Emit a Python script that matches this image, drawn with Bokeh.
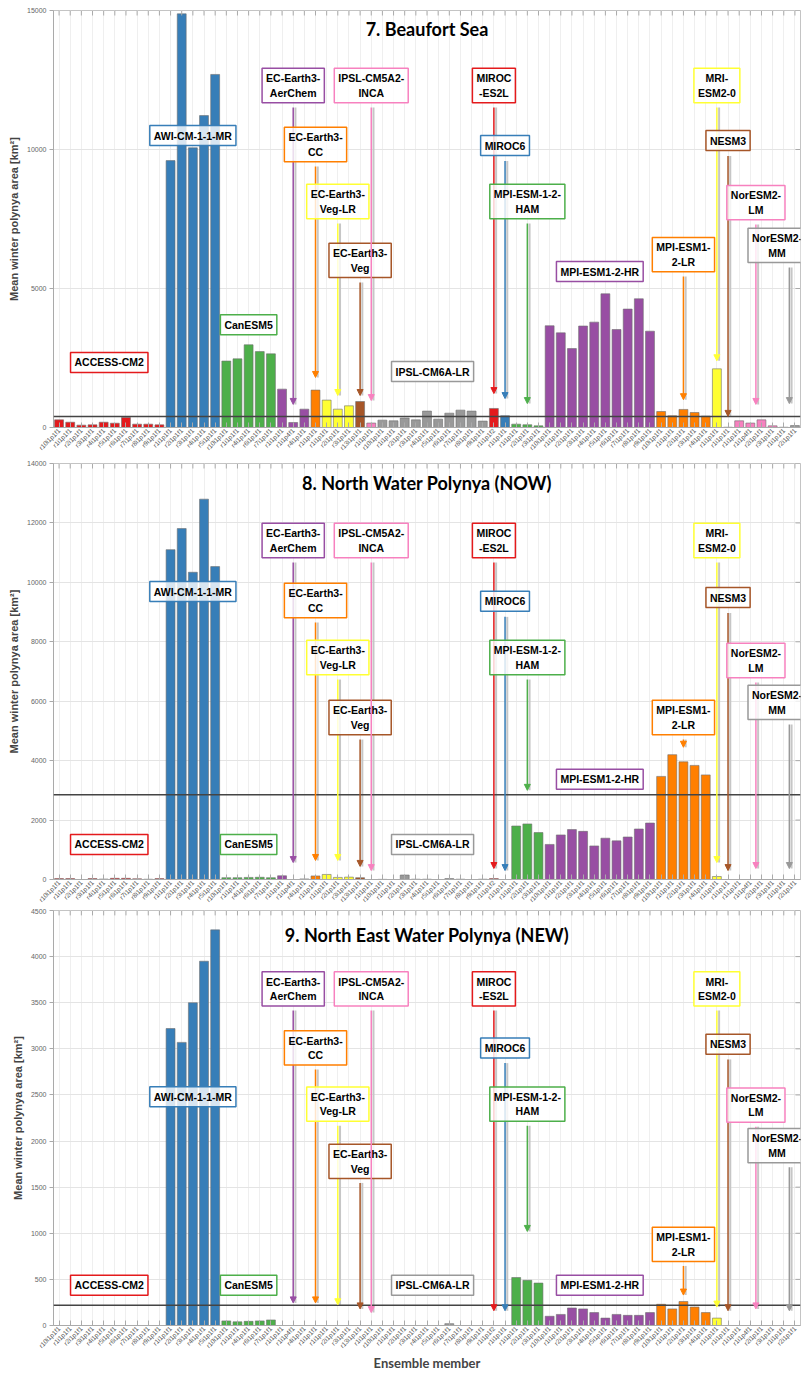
import numpy as np
from bokeh.plotting import figure
from bokeh.layouts import column
from bokeh.models import (Span, Label, Arrow, NormalHead, FixedTicker, Range1d, ColumnDataSource)
from bokeh.embed import file_html
from bokeh.resources import INLINE

# ---------------- data ----------------
models = ["ACCESS-CM2", "AWI-CM-1-1-MR", "CanESM5", "EC-Earth3-AerChem", "EC-Earth3-CC",
          "EC-Earth3-Veg-LR", "EC-Earth3-Veg", "IPSL-CM5A2-INCA", "IPSL-CM6A-LR", "MIROC-ES2L",
          "MIROC6", "MPI-ESM-1-2-HAM", "MPI-ESM1-2-HR", "MPI-ESM1-2-LR", "MRI-ESM2-0", "NESM3",
          "NorESM2-LM", "NorESM2-MM"]
box_texts = ["ACCESS-CM2", "AWI-CM-1-1-MR", "CanESM5", "EC-Earth3-\nAerChem", "EC-Earth3-\nCC",
             "EC-Earth3-\nVeg-LR", "EC-Earth3-\nVeg", "IPSL-CM5A2-\nINCA", "IPSL-CM6A-LR", "MIROC\n-ES2L",
             "MIROC6", "MPI-ESM-1-2-\nHAM", "MPI-ESM1-2-HR", "MPI-ESM1-\n2-LR", "MRI-\nESM2-0", "NESM3",
             "NorESM2-\nLM", "NorESM2-\nMM"]
colors = ["#e41a1c", "#377eb8", "#4daf4a", "#984ea3", "#ff7f00", "#ffff33", "#a65628", "#f781bf", "#999999",
          "#e41a1c", "#377eb8", "#4daf4a", "#984ea3", "#ff7f00", "#ffff33", "#a65628", "#f781bf", "#999999"]
r10 = ["r10i1p1f1"] + ["r%di1p1f1" % k for k in range(1, 10)]
members_by_model = [
    r10,
    ["r%di1p1f1" % k for k in range(1, 6)],
    ["r10i1p1f1", "r1i1p1f1", "r4i1p1f1", "r6i1p1f1", "r7i1p1f1"],
    ["r1i1p1f1", "r1i1p4f1", "r4i1p1f1"],
    ["r1i1p1f1"],
    ["r1i1p1f1", "r2i1p1f1", "r3i1p1f1"],
    ["r13i1p1f1"],
    ["r1i1p1f1"],
    r10,
    ["r1i1p1f2"],
    ["r1i1p1f1"],
    ["r1i1p1f1", "r2i1p1f1", "r3i1p1f1"],
    r10,
    ["r10i1p1f1", "r1i1p1f1", "r2i1p1f1", "r3i1p1f1", "r4i1p1f1"],
    ["r1i1p1f1"],
    ["r1i1p1f1"],
    ["r1i1p1f1", "r1i1p4f1", "r2i1p1f1", "r3i1p1f1"],
    ["r1i1p1f1", "r2i1p1f1"],
]

# 7. Beaufort Sea
beaufort = [
    [275, 190, 85, 95, 190, 155, 360, 120, 120, 95],
    [9600, 14880, 10060, 11220, 12700],
    [2390, 2470, 2975, 2730, 2650],
    [1380, 180, 660],
    [1345],
    [985, 660, 780],
    [935],
    [160],
    [265, 240, 340, 275, 590, 300, 515, 625, 590, 230],
    [685],
    [420],
    [120, 100, 60],
    [3660, 3405, 2840, 3650, 3790, 4810, 3525, 4260, 4630, 3465],
    [575, 420, 650, 540, 410],
    [2110],
    [10],
    [240, 160, 275, 60],
    [10, 70],
]
# 8. North Water Polynya (NOW)
now = [
    [30, 30, 0, 30, 15, 40, 40, 25, 10, 30],
    [11100, 11810, 10340, 12800, 10530],
    [60, 60, 70, 75, 60],
    [125, 0, 20],
    [120],
    [170, 70, 80],
    [60],
    [0],
    [5, 0, 150, 10, 10, 0, 30, 10, 0, 10],
    [30],
    [0],
    [1800, 1870, 1580],
    [1180, 1500, 1680, 1620, 1130, 1390, 1300, 1430, 1700, 1900],
    [3470, 4200, 3960, 3840, 3520],
    [100],
    [0],
    [0, 0, 0, 0],
    [0, 0],
]
# 9. North East Water Polynya (NEW)
new = [
    [0, 0, 0, 0, 0, 0, 0, 0, 0, 0],
    [3220, 3070, 3500, 3950, 4290],
    [50, 40, 45, 50, 60],
    [0, 0, 0],
    [0],
    [0, 0, 0],
    [0],
    [0],
    [0, 0, 0, 0, 0, 0, 20, 0, 0, 0],
    [0],
    [0],
    [520, 490, 460],
    [100, 120, 190, 180, 140, 80, 120, 110, 110, 140],
    [230, 180, 260, 200, 140],
    [80],
    [0],
    [0, 0, 0, 0],
    [0, 0],
]
obs_values = [400, 2850, 220]
titles = ["7. Beaufort Sea", "8. North Water Polynya (NOW)", "9. North East Water Polynya (NEW)"]
y_max = [15000, 14000, 4500]
y_ticks = [[0, 5000, 10000, 15000], list(range(0, 14001, 2000)), list(range(0, 4501, 500))]

# annotation box y positions and arrow tips (None = no arrow)
box_y = [
    [2340, 10500, 3700, 12300, 10180, 8130, 6010, 12300, 2010, 12300, 10140, 8130, 5610, 6220, 12300, 10320, 8090, 6550],
    [1180, 9690, 1180, 11410, 9390, 7470, 5450, 11410, 1180, 11410, 9360, 7470, 3370, 5450, 11410, 9490, 7370, 5960],
    [436, 2480, 436, 3650, 3010, 2400, 1780, 3650, 436, 3650, 3010, 2400, 436, 880, 3650, 3050, 2390, 1950],
]
tip_y = [
    [None, None, None, 830, 1800, 1150, 1150, 970, None, 1220, 1040, 860, None, 1000, 2400, 400, 830, 860],
    [None, None, None, 570, 640, 640, 440, 300, None, 370, 300, 3000, None, 4450, 570, 300, 370, 370],
    [None, None, None, 245, 245, 225, 180, 140, None, 160, 160, 1020, None, 330, 200, 160, 180, 160],
]
title_y = [14350, 13330, 4234]
box_x_shift = {17: -1.1}  # NorESM2-MM box pushed left to stay inside the frame

# ---------------- derived ----------------
members = [m for grp in members_by_model for m in grp]
n = len(members)
counts = [len(g) for g in members_by_model]
starts = np.concatenate([[0], np.cumsum(counts)[:-1]])
centers = starts + (np.array(counts) - 1) / 2.0
bar_colors = [colors[i] for i, g in enumerate(members_by_model) for _ in g]
xs = np.arange(n)

FONT = "Liberation Sans"
TFONT = "Lato"

tops = [10, 3, 2]
frames = [417, 416, 423]
bottoms = [33, 29, 40]
panels_data = [beaufort, now, new]
figs = []
for k in range(3):
    vals = [v for grp in panels_data[k] for v in grp]
    h = tops[k] + frames[k] + bottoms[k]
    p = figure(width=802, height=h, x_range=Range1d(-0.5, n - 0.5),
               y_range=Range1d(0, y_max[k]), output_backend="svg", toolbar_location=None,
               min_border_left=53, min_border_right=2, min_border_top=tops[k],
               min_border_bottom=bottoms[k])
    p.outline_line_color = "#c4c4c4"
    px_per_unit = frames[k] / y_max[k]
    src = ColumnDataSource(dict(x=xs, top=vals, color=bar_colors))
    p.vbar(x="x", top="top", width=0.8, source=src, fill_color="color",
           line_color="#6e6e6e", line_width=0.6)
    # top inward ticks and right inward ticks (box style)
    p.segment(x0=xs, y0=[y_max[k]] * n, x1=xs, y1=[y_max[k] - 5 / px_per_unit] * n,
              line_color="#aaaaaa", line_width=1)
    yt = y_ticks[k]
    p.segment(x0=[n - 0.5] * len(yt), y0=yt, x1=[n - 0.5 - 0.45] * len(yt), y1=yt,
              line_color="#aaaaaa", line_width=1)
    # axes
    p.xaxis.ticker = FixedTicker(ticks=list(range(n)))
    p.xaxis.major_label_overrides = {i: m for i, m in enumerate(members)}
    p.xaxis.major_label_orientation = np.pi / 4
    p.xaxis.major_label_text_font_size = "6.5px"
    p.xaxis.major_label_text_color = "#555555"
    p.xaxis.major_label_text_font = FONT
    p.xaxis.major_label_standoff = 2
    p.xaxis.major_tick_in = 5
    p.xaxis.major_tick_out = 0
    p.xaxis.major_tick_line_color = "#aaaaaa"
    p.xaxis.axis_line_color = "#aaaaaa"
    if k == 2:
        p.xaxis.axis_label = "Ensemble member"
        p.xaxis.axis_label_text_font = TFONT
        p.xaxis.axis_label_text_font_style = "bold"
        p.xaxis.axis_label_text_font_size = "13px"
        p.xaxis.axis_label_standoff = 0
    p.yaxis.ticker = FixedTicker(ticks=y_ticks[k])
    p.yaxis.major_label_text_font_size = "7px"
    p.yaxis.major_label_text_color = "#666666"
    p.yaxis.major_label_text_font = FONT
    p.yaxis.major_tick_out = 4
    p.yaxis.major_tick_in = 0
    p.yaxis.minor_tick_line_color = None
    p.yaxis.major_tick_line_color = "#aaaaaa"
    p.yaxis.axis_line_color = "#aaaaaa"
    p.yaxis.major_label_standoff = 3
    p.yaxis.axis_label = "Mean winter polynya area [km²]"
    p.yaxis.axis_label_text_font = FONT
    p.yaxis.axis_label_text_font_style = "bold"
    p.yaxis.axis_label_text_font_size = "11px"
    p.yaxis.axis_label_standoff = 4
    p.xgrid.grid_line_color = "#efefef"
    p.ygrid.grid_line_color = "#e4e4e4"

    # obs
    p.add_layout(Span(location=obs_values[k], dimension="width", line_color="#444444", line_width=1.5))
    p.add_layout(Label(x=-0.85, y=obs_values[k], text="Obs", text_align="right", text_baseline="middle",
                       y_offset=4, text_font=FONT, text_font_style="bold", text_font_size="12px",
                       text_color="black"))
    # title
    p.add_layout(Label(x=(n - 1) / 2.0, y=title_y[k], text=titles[k], text_align="center",
                       text_baseline="middle", text_font=TFONT, text_font_style="bold",
                       text_font_size="18px", text_color="black"))

    # arrows + boxes
    for m in range(len(models)):
        c = colors[m]
        cx = float(centers[m])
        by = box_y[k][m]
        nlines = box_texts[m].count("\n") + 1
        half_h = (9 + 6.5 * nlines) / px_per_unit
        if tip_y[k][m] is not None:
            y0 = by - half_h
            y1 = tip_y[k][m]
            p.segment(x0=[cx + 0.2], y0=[y0], x1=[cx + 0.2], y1=[y1], line_color="#c6c6c6",
                      line_width=2)
            p.add_layout(Arrow(x_start=cx, y_start=y0, x_end=cx, y_end=y1, line_color=c, line_width=1.5,
                               end=NormalHead(size=6, fill_color=c, line_color=c)))
        p.add_layout(Label(x=cx + box_x_shift.get(m, 0.0), y=by, text=box_texts[m], text_align="center",
                           text_baseline="middle", text_font=FONT, text_font_style="bold",
                           text_font_size="10.5px", text_color="black", background_fill_color="white",
                           background_fill_alpha=0.8, border_line_color=c, border_line_width=1.5,
                           padding=4))
    figs.append(p)

layout = column(*figs, spacing=0)
open("out.html", "w").write(file_html(layout, INLINE))
